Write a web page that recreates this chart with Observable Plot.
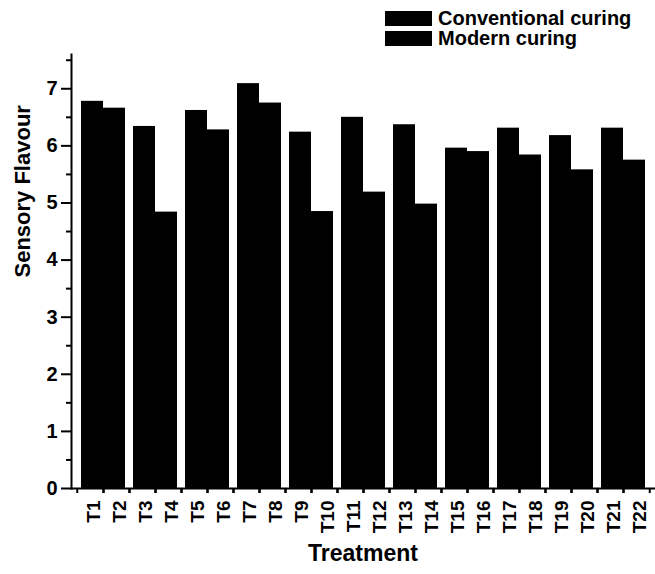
<!DOCTYPE html>
<html>
<head>
<meta charset="utf-8">
<script src="https://cdn.jsdelivr.net/npm/d3@7"></script>
<script src="https://cdn.jsdelivr.net/npm/@observablehq/plot@0.6"></script>
<style>
  html, body { margin: 0; padding: 0; background: #fff; }
  #wrap { position: relative; width: 655px; height: 574px; font-family: "Liberation Sans", Arial, sans-serif; }
  .legend { position: absolute; left: 385px; top: 8px; font-weight: bold; font-size: 20px; color: #000; }
  .legend .row { display: flex; align-items: center; height: 20px; }
  .legend .sw { width: 47px; height: 15px; background: #000; margin-right: 6px; }
</style>
</head>
<body>
<div id="wrap"></div>
<script>
const treatments = ["T1","T2","T3","T4","T5","T6","T7","T8","T9","T10","T11","T12","T13","T14","T15","T16","T17","T18","T19","T20","T21","T22"];
const seriesNames = ["Conventional curing", "Modern curing"];
// odd-numbered treatments (conventional) and even-numbered treatments (modern)
const conventional = [6.78, 6.34, 6.62, 7.09, 6.24, 6.50, 6.37, 5.96, 6.31, 6.18, 6.31];
const modern       = [6.66, 4.84, 6.28, 6.75, 4.85, 5.19, 4.98, 5.90, 5.84, 5.58, 5.75];
const yTicks = [0, 1, 2, 3, 4, 5, 6, 7];
const yMinor = [0.5, 1.5, 2.5, 3.5, 4.5, 5.5, 6.5, 7.5];

const data = treatments.map((t, i) => ({
  treatment: t,
  series: seriesNames[i % 2],
  value: i % 2 === 0 ? conventional[i / 2] : modern[(i - 1) / 2]
}));

const W = 655, H = 574;
const mL = 71, mR = 1, mT = 54, mB = 86;
const bw = (W - mL - mR) / treatments.length;

const chart = Plot.plot({
  width: W,
  height: H,
  marginLeft: mL,
  marginRight: mR,
  marginTop: mT,
  marginBottom: mB,
  style: { fontFamily: "Liberation Sans, Arial, sans-serif", fontWeight: "bold", color: "#000", background: "#fff" },
  x: { domain: treatments, padding: 0, label: null },
  y: { domain: [0, 7.6], label: null },
  marks: [
    Plot.barY(data.filter(d => d.series === seriesNames[0]), { x: "treatment", y: "value", fill: "#000", insetLeft: 4, insetRight: 0 }),
    Plot.barY(data.filter(d => d.series === seriesNames[1]), { x: "treatment", y: "value", fill: "#000", insetLeft: 0, insetRight: 4 }),
    Plot.frame({ anchor: "left", strokeWidth: 2 }),
    Plot.frame({ anchor: "bottom", strokeWidth: 2 }),
    Plot.axisY({ ticks: yTicks, tickSize: 10, tickPadding: 4, strokeWidth: 2, fontSize: 20, fontWeight: "bold", label: null }),
    Plot.axisY({ ticks: yMinor, tickSize: 5, strokeWidth: 2, text: null, label: null }),
    Plot.axisX({ tickSize: 0, tickPadding: 12, tickRotate: -90, fontSize: 19, fontWeight: "bold", dx: 3, label: null }),
    Plot.axisX({ tickSize: 5, strokeWidth: 2, text: null, label: null, dx: -bw / 2 }),
    Plot.axisX({ tickSize: 5, strokeWidth: 2, text: null, label: null, dx: bw / 2 }),
    Plot.text(["Sensory Flavour"], { frameAnchor: "left", dx: -49, dy: 6, rotate: -90, fontSize: 22, fontWeight: "bold", fill: "#000" }),
    Plot.text(["Treatment"], { frameAnchor: "bottom", dy: 72, fontSize: 23, fontWeight: "bold", fill: "#000" })
  ]
});

const wrap = document.getElementById("wrap");
wrap.appendChild(chart);
const legend = document.createElement("div");
legend.className = "legend";
legend.innerHTML = seriesNames.map(s => `<div class="row"><div class="sw"></div><span>${s}</span></div>`).join("");
wrap.appendChild(legend);
</script>
</body>
</html>
